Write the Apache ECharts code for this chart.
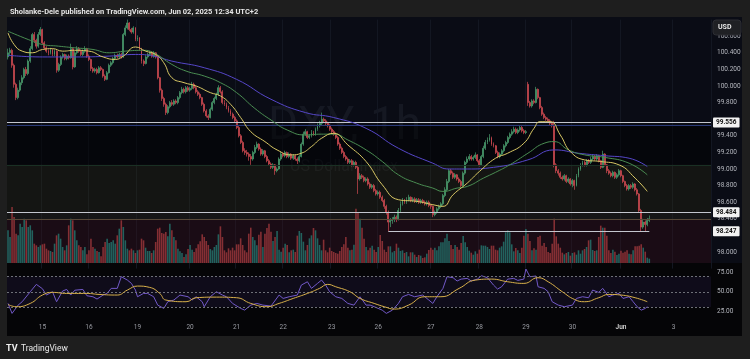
<!DOCTYPE html>
<html><head><meta charset="utf-8">
<script src="https://cdn.jsdelivr.net/npm/echarts@6/dist/echarts.min.js"></script>
<style>html,body{margin:0;padding:0;background:#1e1e1e;}#c{width:750px;height:359px;}</style>
</head><body><div id="c"></div>
<script>
const dayLabels = ['15','16','19','20','21','22','23','26','27','28','29','30','Jun','3'];
const dayIndex = [17,40,64,90,113,136,160,183,209,233,256,279,303,329];
const slotCount = 348;

const open = [100.35,100.40,100.43,100.25,100.02,99.86,99.95,100.04,100.10,100.20,
100.15,100.30,100.45,100.62,100.55,100.48,100.62,100.68,100.52,100.46,
100.42,100.40,100.44,100.38,100.42,100.19,100.26,100.35,100.38,100.33,
100.36,100.34,100.45,100.23,100.40,100.45,100.42,100.38,100.42,100.45,
100.36,100.32,100.21,100.18,100.20,100.16,100.22,100.20,100.12,100.08,
100.16,100.25,100.28,100.33,100.37,100.35,100.38,100.35,100.62,100.70,
100.76,100.68,100.65,100.70,100.56,100.58,100.45,100.30,100.27,100.35,
100.38,100.40,100.36,100.40,100.35,100.10,99.95,99.85,99.78,99.68,
99.75,99.80,99.78,99.82,99.80,99.86,99.92,99.96,99.93,99.98,
99.95,99.97,100.02,99.98,99.93,99.90,99.86,99.78,99.70,99.64,
99.62,99.72,99.80,99.85,99.90,99.98,99.93,99.80,99.78,99.74,
99.70,99.66,99.62,99.58,99.50,99.40,99.32,99.22,99.20,99.18,
99.15,99.12,99.20,99.26,99.30,99.24,99.18,99.22,99.15,99.10,
99.06,99.02,99.05,98.98,99.00,99.12,99.18,99.16,99.20,99.15,
99.18,99.13,99.16,99.12,99.10,99.15,99.30,99.42,99.45,99.38,
99.40,99.44,99.42,99.48,99.52,99.55,99.60,99.58,99.55,99.52,
99.48,99.45,99.42,99.38,99.30,99.25,99.20,99.15,99.12,99.08,
99.10,99.05,99.08,99.02,98.88,98.92,98.90,98.86,98.88,98.82,
98.78,98.80,98.74,98.70,98.72,98.66,98.62,98.55,98.48,98.36,
98.38,98.39,98.42,98.40,98.50,98.58,98.62,98.60,98.63,98.66,
98.62,98.64,98.61,98.63,98.60,98.62,98.60,98.58,98.60,98.56,
98.55,98.45,98.48,98.52,98.55,98.58,98.68,98.75,98.85,98.98,
98.95,98.90,98.93,98.88,98.85,98.80,98.95,99.08,99.12,99.15,
99.12,99.14,99.17,99.10,99.05,99.15,99.25,99.32,99.35,99.38,
99.30,99.28,99.20,99.15,99.18,99.22,99.28,99.32,99.38,99.42,
99.45,99.48,99.44,99.47,99.50,99.46,99.44,100.02,99.80,99.76,
99.82,99.80,99.96,99.86,99.74,99.66,99.62,99.60,99.58,99.55,
99.52,99.05,98.98,98.95,98.90,98.88,98.92,98.85,98.88,98.82,
98.86,98.80,98.92,99.00,99.05,99.08,99.05,99.10,99.08,99.12,
99.15,99.12,99.16,99.10,99.02,99.18,99.05,98.98,98.95,98.92,
98.96,98.90,98.93,98.98,98.92,98.85,98.80,98.76,98.80,98.78,
98.82,98.75,98.70,98.50,98.30,98.36,98.33,98.38];

const close = [100.40,100.43,100.25,100.02,99.86,99.95,100.04,100.10,100.20,100.15,
100.30,100.45,100.62,100.55,100.48,100.62,100.68,100.52,100.46,100.42,
100.40,100.44,100.38,100.42,100.19,100.26,100.35,100.38,100.33,100.36,
100.34,100.45,100.23,100.40,100.45,100.42,100.38,100.42,100.45,100.36,
100.32,100.21,100.18,100.20,100.16,100.22,100.20,100.12,100.08,100.16,
100.25,100.28,100.33,100.37,100.35,100.38,100.35,100.62,100.70,100.76,
100.68,100.65,100.70,100.56,100.58,100.45,100.30,100.27,100.35,100.38,
100.40,100.36,100.40,100.35,100.10,99.95,99.85,99.78,99.68,99.75,
99.80,99.78,99.82,99.80,99.86,99.92,99.96,99.93,99.98,99.95,
99.97,100.02,99.98,99.93,99.90,99.86,99.78,99.70,99.64,99.62,
99.72,99.80,99.85,99.90,99.98,99.93,99.80,99.78,99.74,99.70,
99.66,99.62,99.58,99.50,99.40,99.32,99.22,99.20,99.18,99.15,
99.12,99.20,99.26,99.30,99.24,99.18,99.22,99.15,99.10,99.06,
99.02,99.05,98.98,99.00,99.12,99.18,99.16,99.20,99.15,99.18,
99.13,99.16,99.12,99.10,99.15,99.30,99.42,99.45,99.38,99.40,
99.44,99.42,99.48,99.52,99.55,99.60,99.58,99.55,99.52,99.48,
99.45,99.42,99.38,99.30,99.25,99.20,99.15,99.12,99.08,99.10,
99.05,99.08,99.02,98.88,98.92,98.90,98.86,98.88,98.82,98.78,
98.80,98.74,98.70,98.72,98.66,98.62,98.55,98.48,98.36,98.38,
98.39,98.42,98.40,98.50,98.58,98.62,98.60,98.63,98.66,98.62,
98.64,98.61,98.63,98.60,98.62,98.60,98.58,98.60,98.56,98.55,
98.45,98.48,98.52,98.55,98.58,98.68,98.75,98.85,98.98,98.95,
98.90,98.93,98.88,98.85,98.80,98.95,99.08,99.12,99.15,99.12,
99.14,99.17,99.10,99.05,99.15,99.25,99.32,99.35,99.38,99.30,
99.28,99.20,99.15,99.18,99.22,99.28,99.32,99.38,99.42,99.45,
99.48,99.44,99.47,99.50,99.46,99.44,99.45,99.80,99.76,99.82,
99.80,99.96,99.86,99.74,99.66,99.62,99.60,99.58,99.55,99.52,
99.05,98.98,98.95,98.90,98.88,98.92,98.85,98.88,98.82,98.86,
98.80,98.92,99.00,99.05,99.08,99.05,99.10,99.08,99.12,99.15,
99.12,99.16,99.10,99.02,99.18,99.05,98.98,98.95,98.92,98.96,
98.90,98.93,98.98,98.92,98.85,98.80,98.76,98.80,98.78,98.82,
98.75,98.70,98.50,98.30,98.36,98.33,98.38,98.40];

const high = [100.45,100.46,100.45,100.27,100.04,99.98,100.07,100.13,100.22,100.23,
100.32,100.48,100.64,100.65,100.57,100.65,100.71,100.69,100.54,100.48,
100.44,100.46,100.45,100.44,100.43,100.28,100.37,100.40,100.39,100.38,
100.38,100.51,100.46,100.42,100.48,100.47,100.44,100.44,100.48,100.46,
100.38,100.33,100.23,100.22,100.22,100.24,100.24,100.21,100.14,100.18,
100.27,100.30,100.35,100.39,100.39,100.40,100.40,100.64,100.73,100.80,
100.77,100.70,100.72,100.71,100.61,100.59,100.46,100.32,100.37,100.40,
100.42,100.42,100.42,100.41,100.36,100.11,99.97,99.87,99.80,99.77,
99.82,99.83,99.84,99.84,99.88,99.94,99.99,99.98,100.00,100.00,
99.99,100.05,100.04,100.00,99.95,99.92,99.87,99.80,99.72,99.66,
99.74,99.82,99.87,99.92,100.01,100.00,99.95,99.83,99.80,99.76,
99.72,99.68,99.64,99.60,99.52,99.42,99.34,99.25,99.23,99.20,
99.18,99.22,99.29,99.33,99.31,99.26,99.24,99.23,99.17,99.12,
99.08,99.07,99.06,99.02,99.14,99.21,99.20,99.22,99.21,99.20,
99.19,99.18,99.17,99.14,99.17,99.32,99.45,99.48,99.46,99.42,
99.47,99.46,99.50,99.55,99.58,99.68,99.62,99.60,99.57,99.54,
99.50,99.47,99.44,99.40,99.32,99.27,99.22,99.17,99.14,99.12,
99.12,99.10,99.10,99.04,98.95,98.94,98.92,98.90,98.90,98.84,
98.82,98.82,98.76,98.74,98.74,98.68,98.64,98.57,98.50,98.41,
98.42,98.45,98.44,98.53,98.61,98.65,98.64,98.66,98.69,98.67,
98.66,98.66,98.65,98.65,98.64,98.64,98.62,98.62,98.62,98.58,
98.56,98.50,98.54,98.57,98.60,98.70,98.78,98.88,99.00,99.00,
98.97,98.95,98.94,98.90,98.87,98.97,99.10,99.15,99.18,99.17,
99.16,99.20,99.18,99.12,99.17,99.28,99.35,99.38,99.42,99.39,
99.32,99.29,99.22,99.20,99.24,99.30,99.34,99.40,99.44,99.48,
99.51,99.50,99.49,99.52,99.52,99.48,99.47,100.05,99.82,99.84,
99.84,99.99,99.97,99.87,99.76,99.68,99.64,99.62,99.60,99.57,
99.58,99.07,99.00,98.97,98.92,98.94,98.93,98.90,98.89,98.88,
98.87,98.94,99.02,99.07,99.10,99.10,99.12,99.12,99.15,99.18,
99.17,99.18,99.17,99.11,99.22,99.19,99.06,99.00,98.97,98.98,
98.97,98.95,99.00,98.99,98.93,98.86,98.82,98.82,98.82,98.84,
98.83,98.77,98.71,98.52,98.40,98.38,98.41,98.44];

const low = [100.32,100.36,100.22,99.98,99.83,99.84,99.93,100.01,100.08,100.12,
100.13,100.28,100.43,100.52,100.45,100.46,100.60,100.50,100.44,100.40,
100.37,100.38,100.36,100.36,100.16,100.17,100.24,100.33,100.31,100.31,
100.32,100.33,100.20,100.22,100.38,100.40,100.36,100.36,100.40,100.34,
100.30,100.18,100.16,100.16,100.14,100.15,100.18,100.10,100.06,100.07,
100.15,100.23,100.26,100.31,100.33,100.33,100.33,100.34,100.60,100.68,
100.66,100.63,100.63,100.54,100.54,100.43,100.27,100.24,100.26,100.33,
100.36,100.34,100.34,100.33,100.08,99.92,99.82,99.75,99.65,99.66,
99.73,99.76,99.76,99.78,99.78,99.84,99.90,99.91,99.91,99.93,
99.93,99.95,99.96,99.91,99.88,99.84,99.76,99.68,99.62,99.59,
99.61,99.70,99.78,99.83,99.88,99.91,99.78,99.76,99.72,99.68,
99.64,99.60,99.56,99.48,99.38,99.30,99.20,99.17,99.15,99.10,
99.05,99.10,99.18,99.24,99.22,99.16,99.16,99.13,99.08,99.04,
99.00,99.00,98.93,98.96,98.99,99.10,99.14,99.14,99.13,99.13,
99.11,99.11,99.10,99.06,99.08,99.14,99.28,99.40,99.36,99.36,
99.38,99.40,99.40,99.46,99.50,99.53,99.56,99.53,99.50,99.46,
99.43,99.40,99.36,99.28,99.23,99.18,99.13,99.10,99.06,99.06,
99.03,99.03,99.00,98.70,98.86,98.88,98.84,98.84,98.80,98.76,
98.76,98.72,98.68,98.68,98.64,98.60,98.52,98.45,98.25,98.30,
98.34,98.36,98.36,98.38,98.48,98.56,98.58,98.58,98.61,98.60,
98.60,98.59,98.59,98.58,98.58,98.58,98.56,98.56,98.54,98.52,
98.42,98.43,98.46,98.50,98.53,98.56,98.66,98.73,98.83,98.93,
98.88,98.88,98.86,98.83,98.78,98.79,98.93,99.06,99.10,99.10,
99.10,99.12,99.08,99.03,99.04,99.13,99.23,99.30,99.33,99.28,
99.26,99.18,99.13,99.13,99.16,99.20,99.26,99.30,99.36,99.40,
99.43,99.42,99.42,99.45,99.44,99.42,99.42,99.76,99.74,99.74,
99.78,99.79,99.84,99.72,99.64,99.60,99.58,99.56,99.53,99.50,
99.02,98.95,98.92,98.88,98.86,98.86,98.83,98.83,98.80,98.78,
98.75,98.79,98.90,98.98,99.03,99.03,99.03,99.06,99.06,99.10,
99.10,99.10,99.08,99.00,99.01,99.03,98.95,98.93,98.90,98.90,
98.88,98.88,98.91,98.90,98.83,98.78,98.74,98.74,98.76,98.76,
98.73,98.68,98.48,98.25,98.28,98.25,98.31,98.36];

const volume = [98,78,168,138,88,83,118,108,133,128,
108,113,98,58,53,48,53,56,58,43,
38,36,33,58,83,88,73,48,38,53,
113,133,128,98,68,53,48,38,48,26,
38,73,48,43,36,33,20,48,63,73,
60,63,68,58,83,103,128,108,68,43,
38,43,38,30,38,40,73,68,46,36,
36,30,38,63,103,106,90,88,93,80,
118,98,78,68,43,35,30,18,26,42,
54,40,33,44,56,65,86,78,66,54,
42,38,48,54,86,110,78,38,32,44,
38,46,38,56,56,74,54,38,32,88,
106,78,68,53,85,94,48,88,105,118,
94,66,78,96,40,34,46,58,54,32,
38,40,33,82,96,90,64,38,54,74,
83,105,98,74,54,38,70,38,32,46,
36,33,30,28,36,48,56,78,46,38,
40,55,163,153,133,106,73,48,38,46,
52,40,33,48,84,66,40,33,50,50,
32,36,58,46,36,38,30,33,20,32,
32,25,18,24,22,15,17,28,39,46,
40,46,38,50,62,62,74,88,66,54,
42,54,48,40,60,81,62,48,37,31,
25,35,28,40,53,52,52,48,42,52,
52,40,38,46,50,64,92,98,92,56,
35,45,38,30,46,82,102,88,66,38,
44,40,78,82,52,60,48,33,30,58,
133,80,58,46,31,26,30,33,22,30,
32,25,38,28,38,42,48,68,70,39,
36,38,78,112,106,106,82,38,30,40,
34,24,28,37,31,34,38,28,26,38,
50,50,52,56,46,34,16,13];

const maFast = [[0,100.64],[3,100.50],[7,100.42],[12,100.40],[17,100.44],[22,100.45],[27,100.42],[33,100.43],[40,100.42],[47,100.35],[53,100.32],[57,100.36],[63,100.47],[68,100.42],[73,100.38],[77,100.28],[81,100.10],[87,100.04],[93,100.00],[100,99.92],[105,99.88],[110,99.78],[115,99.62],[120,99.45],[127,99.33],[133,99.23],[140,99.17],[145,99.19],[150,99.27],[155,99.37],[161,99.43],[168,99.29],[177,99.09],[185,98.81],[193,98.63],[202,98.61],[210,98.57],[215,98.55],[220,98.69],[227,98.83],[233,98.97],[241,99.13],[247,99.19],[255,99.31],[260,99.49],[263,99.57],[268,99.57],[273,99.41],[278,99.21],[285,99.11],[293,99.09],[302,99.05],[310,98.89],[316,98.73]];
const maMid = [[0,100.66],[10,100.56],[17,100.50],[25,100.48],[33,100.46],[42,100.44],[50,100.40],[58,100.42],[67,100.43],[72,100.40],[81,100.26],[88,100.18],[97,100.12],[105,100.04],[113,99.92],[122,99.73],[130,99.59],[138,99.47],[147,99.41],[155,99.42],[161,99.42],[168,99.35],[177,99.23],[185,99.09],[193,98.93],[202,98.83],[210,98.77],[215,98.73],[222,98.77],[227,98.79],[235,98.89],[241,98.96],[248,99.05],[257,99.19],[265,99.31],[270,99.33],[277,99.23],[285,99.17],[295,99.14],[307,99.07],[316,98.93]];
const maSlow = [[0,100.37],[17,100.35],[33,100.35],[50,100.36],[63,100.38],[72,100.36],[81,100.30],[97,100.22],[113,100.08],[130,99.84],[147,99.68],[161,99.62],[177,99.49],[193,99.25],[210,99.07],[218,99.00],[227,99.00],[240,99.02],[257,99.11],[270,99.23],[282,99.19],[295,99.16],[307,99.13],[316,99.03]];

const rsi = [[0,34.8],[2,21.8],[5,32.6],[7,37],[11,50],[14,59.6],[17,54],[19,45.7],[22,50],[24,37],[27,51],[29,53],[31,45.7],[33,52],[37,53],[39,44.8],[42,43.5],[44,40.5],[47,45.7],[49,47.8],[51,54.4],[54,54.4],[56,69.6],[59,65.2],[61,60.9],[63,52.2],[64,43.5],[67,47.8],[69,47.8],[72,43.5],[74,32.6],[77,28.3],[79,37],[82,39.2],[85,45.7],[89,43.5],[91,39.2],[93,43.5],[96,37],[97,30.5],[100,43.5],[103,50],[106,45.7],[108,43.5],[111,34.8],[115,28.3],[117,26.1],[120,32.6],[123,34.8],[126,32.6],[130,31.3],[134,45.7],[136,41.3],[139,43.5],[143,45.7],[145,58.7],[148,63],[150,54.4],[153,60.9],[155,65.2],[157,58.7],[159,50],[162,43.5],[165,41.3],[168,34.8],[171,32.6],[174,43.5],[177,32.6],[179,32.6],[181,30.5],[185,26],[187,21.8],[190,26],[193,34.8],[195,43.5],[198,46.5],[201,43.5],[205,45.7],[208,39.2],[210,34.8],[212,43.5],[215,54.4],[217,69.6],[220,68.3],[222,64],[224,66.5],[227,67.4],[229,64],[232,66.5],[234,70.9],[237,68.3],[240,58.7],[242,53.5],[244,56.5],[247,66.5],[250,67.4],[252,64.8],[255,66.5],[256,79.6],[258,69.6],[261,70.5],[262,56.5],[265,54.4],[267,50],[269,37],[272,32.6],[275,30.5],[279,32.6],[281,41.3],[284,43.5],[287,42.2],[289,52.2],[292,49.2],[294,54.4],[297,43.5],[299,45.7],[302,47.8],[304,41.3],[307,43.5],[309,37],[311,30.5],[313,26],[315,28.3],[316,30.5]];
const rsiMA = [[0,33.5],[4,30.5],[11,34.8],[17,45.7],[22,49.2],[29,47.8],[39,47.8],[45,46.5],[54,45.7],[59,52.2],[64,57.4],[70,55.7],[75,47.8],[78,39.2],[88,37],[93,42.2],[103,43],[113,42.2],[120,34.8],[128,30.5],[134,34.8],[141,41.3],[148,47.8],[154,54.4],[158,59.6],[162,56.5],[169,50],[174,41.3],[181,34.8],[186,30.5],[191,27.4],[198,32.6],[206,43.5],[214,43.5],[223,54.4],[231,65.2],[239,66.5],[247,63],[255,60.9],[262,68.3],[267,63],[274,50],[280,40],[285,37],[292,42.2],[297,46.5],[303,45.7],[310,42.2],[316,37]];

const priceLevels = [99.556, 98.484, 98.247];
const zoneEdges = [99.530, 99.050, 98.390, 97.867];
const supportStart = 188;

const cats = Array.from({length: slotCount}, () => '');
dayIndex.forEach((d, k) => { cats[d] = dayLabels[k]; });

const candles = open.map((o, i) => [o, close[i], low[i], high[i]]);
const UP = '#4a9e6e', DOWN = '#d04a52';
const volData = volume.map((v, i) => ({
  value: v,
  itemStyle: { color: close[i] >= open[i] ? 'rgba(36,120,112,0.8)' : 'rgba(160,56,60,0.8)' }
}));

const FONT = 'Roboto, "Liberation Sans", sans-serif';
const chart = echarts.init(document.getElementById('c'), null, { renderer: 'canvas' });

const labelBox = (v) => ({
  show: true, position: 'end', distance: 2,
  formatter: v.toFixed(3), color: '#111', backgroundColor: '#f2f2f2',
  padding: [2, 3, 1, 3], fontSize: 6.5, fontWeight: 'bold', fontFamily: FONT, borderRadius: 1
});
const hiddenTicks = [97.8, 98.2, 99.6, 100.8];

const option = {
  backgroundColor: '#1e1e1e',
  animation: false,
  title: {
    text: 'Sholanke-Dele published on TradingView.com, Jun 02, 2025 12:34 UTC+2',
    left: 5, top: 3,
    textStyle: { color: '#e6e6e6', fontSize: 7.5, fontWeight: 'bold', fontFamily: FONT }
  },
  graphic: [
    { type: 'rect', z: -10, shape: { x: 7, y: 17, width: 735, height: 246 }, style: { fill: '#0a0c15' } },
    { type: 'rect', z: -10, shape: { x: 7, y: 263, width: 735, height: 73 }, style: { fill: '#050507' } },
    { type: 'text', z: -5, left: 268, top: 104, style: { text: 'DXY, 1h', fill: 'rgba(150,160,190,0.08)', fontSize: 46, fontFamily: FONT } },
    { type: 'text', z: -5, left: 290, top: 159, style: { text: 'US Dollar Index', fill: 'rgba(150,160,190,0.08)', fontSize: 16, fontFamily: FONT } },
    { type: 'rect', z: 100, shape: { x: 713, y: 20, width: 28, height: 15, r: 3 }, style: { fill: '#1f2024', stroke: '#2c2d33' } },
    { type: 'text', z: 101, left: 718, top: 24, style: { text: 'USD', fill: '#e8e8e8', fontSize: 7, fontWeight: 'bold', fontFamily: FONT } },
    { type: 'text', z: 101, left: 6, top: 344, style: { text: 'TV', fill: '#f0f0f0', fontSize: 9, fontWeight: 'bold', fontFamily: FONT } },
    { type: 'text', z: 101, left: 21, top: 344, style: { text: 'TradingView', fill: '#e8e8e8', fontSize: 8.5, fontFamily: FONT } }
  ],
  grid: [
    { left: 7, top: 19.6, width: 704, height: 249 },
    { left: 7, top: 18, width: 704, height: 245 },
    { left: 7, top: 253.4, width: 704, height: 76.7 },
    { left: 7, top: 290, width: 704, height: 32 }
  ],
  xAxis: [
    { type: 'category', gridIndex: 0, data: cats, boundaryGap: true,
      axisLine: { show: false }, axisTick: { show: false }, axisLabel: { show: false },
      splitLine: { show: true, interval: (i, v) => v !== '', lineStyle: { color: '#131722', width: 1 } } },
    { type: 'category', gridIndex: 1, data: cats, show: false },
    { type: 'category', gridIndex: 2, data: cats, show: false },
    { type: 'category', gridIndex: 3, data: cats, boundaryGap: true,
      axisLine: { show: false }, axisTick: { show: false },
      axisLabel: { show: true, interval: 0, margin: 2, fontSize: 6.5, color: '#9a9ca3', fontFamily: FONT,
        formatter: (v) => v === 'Jun' ? '{b|Jun}' : v,
        rich: { b: { fontSize: 6.5, fontWeight: 'bold', color: '#c8c8c8', fontFamily: FONT } } } }
  ],
  yAxis: [
    { type: 'value', gridIndex: 0, position: 'right', min: 97.8, max: 100.8, interval: 0.2,
      axisLine: { show: false }, axisTick: { show: false }, splitLine: { show: false },
      axisLabel: { margin: 6, fontSize: 6.5, color: '#b4b6bd', fontFamily: FONT,
        formatter: (v) => hiddenTicks.some(t => Math.abs(t - v) < 1e-6) ? '' : v.toFixed(3) } },
    { type: 'value', gridIndex: 1, min: 0, max: 735, show: false },
    { type: 'value', gridIndex: 2, position: 'right', min: 0, max: 100, interval: 25,
      axisLine: { show: false }, axisTick: { show: false }, splitLine: { show: false },
      axisLabel: { margin: 6, fontSize: 6.5, color: '#b4b6bd', fontFamily: FONT,
        formatter: (v) => (v === 0 || v === 100) ? '' : v.toFixed(2) } },
    { type: 'value', gridIndex: 3, show: false }
  ],
  series: [
    { name: 'zones', type: 'line', xAxisIndex: 0, yAxisIndex: 0, data: [], z: 1, silent: true,
      markArea: { silent: true, data: [
        [{ yAxis: zoneEdges[0], itemStyle: { color: 'rgba(0,0,0,0.45)' } }, { yAxis: zoneEdges[1] }],
        [{ yAxis: zoneEdges[1], itemStyle: { color: 'rgba(90,85,10,0.13)' } }, { yAxis: priceLevels[1] }],
        [{ yAxis: priceLevels[1], itemStyle: { color: 'rgba(70,60,30,0.22)' } }, { yAxis: zoneEdges[2] }],
        [{ yAxis: zoneEdges[2], itemStyle: { color: 'rgba(110,10,25,0.16)' } }, { yAxis: zoneEdges[3] }]
      ] } },
    { name: 'levels', type: 'line', xAxisIndex: 0, yAxisIndex: 0, data: [], z: 5, silent: true, clip: false,
      markLine: { silent: true, symbol: 'none', animation: false, data: [
        { yAxis: priceLevels[0], lineStyle: { color: '#c3c6ce', width: 1, type: 'solid' }, label: labelBox(priceLevels[0]) },
        { yAxis: zoneEdges[0], lineStyle: { color: '#2a3a78', width: 1, type: 'solid' }, label: { show: false } },
        { yAxis: zoneEdges[1], lineStyle: { color: '#1a3024', width: 1, type: 'solid' }, label: { show: false } },
        { yAxis: priceLevels[1], lineStyle: { color: '#c3c6ce', width: 1, type: 'solid' }, label: labelBox(priceLevels[1]) },
        { yAxis: zoneEdges[2], lineStyle: { color: '#574838', width: 1, type: 'solid' }, label: { show: false } },
        [{ coord: [supportStart, priceLevels[2]], lineStyle: { color: '#c3c6ce', width: 1, type: 'solid' }, label: { show: false } },
         { coord: [close.length - 1, priceLevels[2]] }],
        { yAxis: priceLevels[2], lineStyle: { color: 'rgba(0,0,0,0)', width: 0 }, label: labelBox(priceLevels[2]) }
      ] } },
    { name: 'Volume', type: 'bar', xAxisIndex: 1, yAxisIndex: 1, data: volData, barWidth: '78%', z: 2, silent: true },
    { name: 'DXY', type: 'candlestick', xAxisIndex: 0, yAxisIndex: 0, data: candles, z: 4, barWidth: 1.4,
      itemStyle: { color: UP, color0: DOWN, borderColor: UP, borderColor0: DOWN, borderWidth: 0.7 } },
    { name: 'MA slow', type: 'line', xAxisIndex: 0, yAxisIndex: 0, data: maSlow, smooth: 0.5, showSymbol: false, z: 6,
      lineStyle: { color: '#5546c8', width: 1 } },
    { name: 'MA mid', type: 'line', xAxisIndex: 0, yAxisIndex: 0, data: maMid, smooth: 0.5, showSymbol: false, z: 6,
      lineStyle: { color: '#4a8d52', width: 1 } },
    { name: 'MA fast', type: 'line', xAxisIndex: 0, yAxisIndex: 0, data: maFast, smooth: 0.5, showSymbol: false, z: 6,
      lineStyle: { color: '#d9c865', width: 1 } },
    { name: 'RSI', type: 'line', xAxisIndex: 2, yAxisIndex: 2, data: rsi, showSymbol: false, z: 4,
      lineStyle: { color: '#7259c8', width: 1 },
      markArea: { silent: true, data: [[{ yAxis: 70, itemStyle: { color: 'rgba(110,80,200,0.10)' } }, { yAxis: 30 }]] },
      markLine: { silent: true, symbol: 'none', label: { show: false },
        lineStyle: { color: '#6e7078', type: [2, 2], width: 1 },
        data: [{ yAxis: 70 }, { yAxis: 50 }, { yAxis: 30 }] } },
    { name: 'RSI MA', type: 'line', xAxisIndex: 2, yAxisIndex: 2, data: rsiMA, smooth: 0.5, showSymbol: false, z: 5,
      lineStyle: { color: '#d9b14a', width: 1 } }
  ]
};
chart.setOption(option);
</script></body></html>
